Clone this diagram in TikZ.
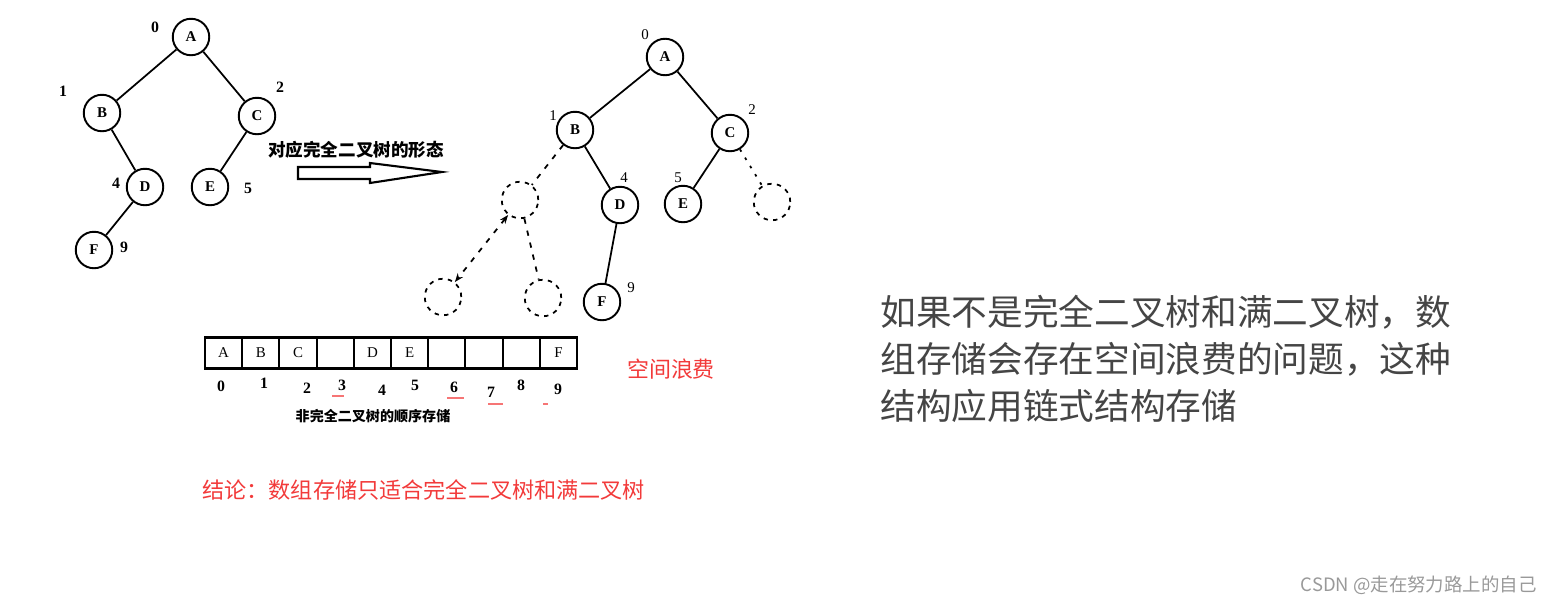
\documentclass[tikz,border=0pt]{standalone}
\usepackage{fontspec}
\setmainfont{Liberation Serif}
\newfontfamily\cjk{Noto Sans CJK SC}
\usetikzlibrary{arrows.meta}
\definecolor{NoteRed}{HTML}{F23A3A}
\definecolor{NoteGray}{HTML}{454545}
\tikzset{
  tnode/.style={circle,draw,line width=1.1pt,minimum size=0.73cm,inner sep=0pt,
    font=\fontsize{8.5}{9}\selectfont\bfseries},
  gnode/.style={circle,draw,line width=1pt,dash pattern=on 2.5pt off 3pt,
    minimum size=0.73cm,inner sep=0pt},
  idxL/.style={font=\fontsize{9}{10}\selectfont\bfseries,inner sep=1pt},
  idxR/.style={font=\fontsize{8.5}{10}\selectfont,inner sep=1pt},
  tedge/.style={line width=1pt},
  gedge/.style={line width=1pt,dash pattern=on 3pt off 4pt},
  cell/.style={draw,line width=1.2pt,minimum width=0.744cm,minimum height=0.62cm,
    inner sep=0pt,font=\fontsize{8.5}{9}\selectfont},
  squig/.style={NoteRed!70,line width=0.6pt},
}

\begin{document}
\begin{tikzpicture}[x=0.02cm,y=-0.02cm]
  \useasboundingbox (0,0) rectangle (1552,605);
  \node[tnode] (a) at (191,37) {A};
  \node[tnode] (b) at (102,113) {B};
  \node[tnode] (c) at (257,116) {C};
  \node[tnode] (d) at (145,187) {D};
  \node[tnode] (e) at (210,187) {E};
  \node[tnode] (f) at (94,250) {F};
  \node[idxL] (la) at (155,27) {0};
  \node[idxL] (lb) at (63,91) {1};
  \node[idxL] (lc) at (280,87) {2};
  \node[idxL] (ld) at (116,183) {4};
  \node[idxL] (le) at (248,188) {5};
  \node[idxL] (lf) at (124,247) {9};
  \draw[tedge] (a) -- (b);
  \draw[tedge] (a) -- (c);
  \draw[tedge] (b) -- (d);
  \draw[tedge] (c) -- (e);
  \draw[tedge] (d) -- (f);

  \node[font=\cjk\bfseries\fontsize{10}{12}\selectfont] (arrtxt) at (356,150) {对应完全二叉树的形态};
  \draw[line width=1.2pt] (298,167) -- (370,167) -- (370,163) -- (442,172)
    -- (370,183) -- (370,179) -- (298,179) -- cycle;

  \node[tnode] (ra) at (665,57) {A};
  \node[tnode] (rb) at (575,130) {B};
  \node[tnode] (rc) at (730,133) {C};
  \node[tnode] (rd) at (620,205) {D};
  \node[tnode] (re) at (683,204) {E};
  \node[tnode] (rf) at (602,302) {F};
  \node[gnode] (g1) at (520,200) {};
  \node[gnode] (g2) at (772,202) {};
  \node[gnode] (g3) at (443,297) {};
  \node[gnode] (g4) at (543,298) {};
  \node[idxR] (rla) at (645,35) {0};
  \node[idxR] (rlb) at (553,116) {1};
  \node[idxR] (rlc) at (752,110) {2};
  \node[idxR] (rld) at (624,178) {4};
  \node[idxR] (rle) at (678,178) {5};
  \node[idxR] (rlf) at (631,288) {9};
  \draw[tedge] (ra) -- (rb);
  \draw[tedge] (ra) -- (rc);
  \draw[tedge] (rb) -- (rd);
  \draw[tedge] (rc) -- (re);
  \draw[tedge] (rd) -- (rf);
  \draw[gedge] (rb) -- (g1);
  \draw[gedge,dash pattern=on 1.5pt off 4pt] (rc) -- (g2);
  \draw[gedge,{Stealth[length=5pt]}-{Stealth[length=5pt]}] (g1) -- (g3);
  \draw[gedge] (g1) -- (g4);

  \foreach \i/\t in {0/A,1/B,2/C,3/,4/D,5/E,6/,7/,8/,9/F}
    \node[cell] (cell\i) at ({223.6+37.2*\i},353) {\raisebox{-2pt}{\t}};
  \foreach \i/\x/\y in {0/221/386,1/264/383,2/307/388,3/342/385,4/382/390,
                        5/415/385,6/454/387,7/491/392,8/521/385,9/558/389}
    \node[idxL] (num\i) at (\x,\y) {\i};
  \draw[squig] (332,396) -- (344,396);
  \draw[squig] (447,398) -- (464,398);
  \draw[squig] (488,404) -- (503,404);
  \draw[squig] (543,404) -- (548,404);
  \node[font=\cjk\bfseries\fontsize{8}{9}\selectfont] (cap) at (373,416) {非完全二叉树的顺序存储};

  \node[font=\cjk\fontsize{12.5}{14}\selectfont,text=NoteRed] (waste) at (671,369) {空间浪费};
  \node[anchor=west,inner sep=0pt,font=\cjk\fontsize{12.6}{14}\selectfont,text=NoteRed] (concl)
    at (202,490) {结论：数组存储只适合完全二叉树和满二叉树};

  \node[anchor=west,inner sep=0pt,align=left,text=NoteGray,
    font=\cjk\fontsize{20.3}{26.8}\selectfont] (note) at (880,359)
    {如果不是完全二叉树和满二叉树，数\\组存储会存在空间浪费的问题，这种\\结构应用链式结构存储};
  \node[anchor=east,inner sep=0pt,text=gray!80,font=\cjk\fontsize{10.5}{12}\selectfont] (mark)
    at (1537,585) {CSDN @走在努力路上的自己};
\end{tikzpicture}
\end{document}
